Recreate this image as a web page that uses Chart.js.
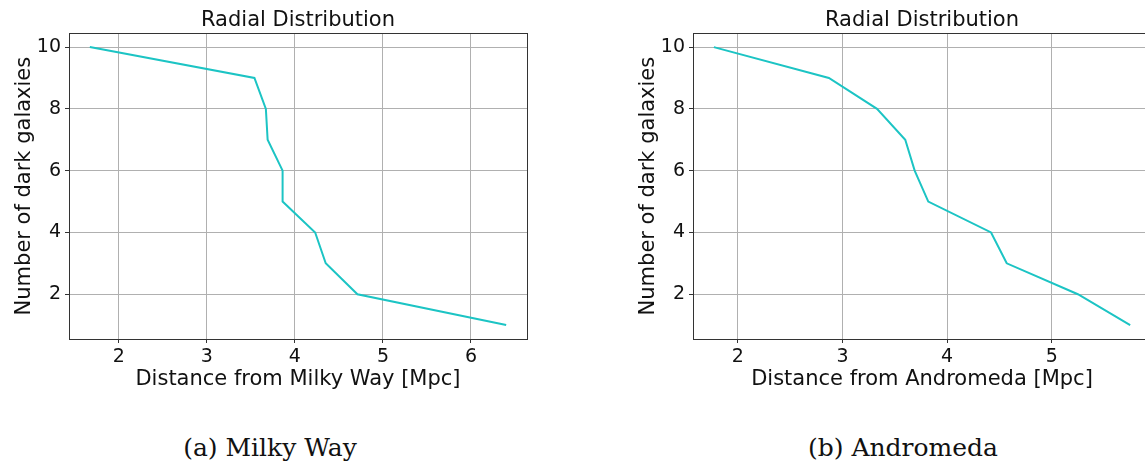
<!DOCTYPE html>
<html>
<head>
<meta charset="utf-8">
<script src="https://cdn.jsdelivr.net/npm/chart.js@4.4.0/dist/chart.umd.min.js"></script>
<style>
  html, body { margin: 0; padding: 0; background: #fff; overflow: hidden; }
  body { width: 1145px; height: 466px; position: relative; }
  canvas { position: absolute; top: 0; }
  #mw { left: 0; }
  #m31 { left: 624px; }
  .caption {
    position: absolute; top: 433px; width: 400px; text-align: center;
    font-family: 'DejaVu Serif', serif; font-size: 25px; color: #111;
  }
</style>
</head>
<body>
<canvas id="mw" width="560" height="400"></canvas>
<canvas id="m31" width="560" height="400"></canvas>
<div class="caption" style="left:70px">(a) Milky Way</div>
<div class="caption" style="left:703px">(b) Andromeda</div>
<script>
const galaxyCount = [10, 9, 8, 7, 6, 5, 4, 3, 2, 1];
const milkyWayDistance = [1.67, 3.54, 3.67, 3.69, 3.86, 3.86, 4.23, 4.35, 4.71, 6.40];
const andromedaDistance = [1.77, 2.87, 3.33, 3.60, 3.69, 3.82, 4.42, 4.57, 5.25, 5.75];
const milkyWayTicks = [2, 3, 4, 5, 6];
const andromedaTicks = [2, 3, 4, 5];
const countTicks = [2, 4, 6, 8, 10];

// spines all round, like matplotlib
const frame = {
  id: 'frame',
  afterDraw(chart) {
    const a = chart.chartArea, ctx = chart.ctx;
    ctx.save();
    ctx.strokeStyle = '#333';
    ctx.lineWidth = 1;
    ctx.strokeRect(Math.round(a.left) + 0.5, Math.round(a.top) + 0.5,
      Math.round(a.right - a.left), Math.round(a.bottom - a.top));
    ctx.restore();
  }
};

function margins(values) {
  const lo = Math.min(...values), hi = Math.max(...values);
  const pad = (hi - lo) * 0.05;
  return [lo - pad, hi + pad];
}

function drawPanel(id, xs, xTicks, xLabel) {
  const canvas = document.getElementById(id);
  const [xMin, xMax] = margins(xs);
  const [yMin, yMax] = margins(galaxyCount);
  const font = { family: 'DejaVu Sans', size: 21, weight: 'normal' };
  new Chart(canvas, {
    type: 'line',
    data: {
      datasets: [{
        data: xs.map((x, i) => ({ x: x, y: galaxyCount[i] })),
        borderColor: '#1cc4c4',
        borderWidth: 2,
        pointRadius: 0,
        tension: 0,
        fill: false,
      }],
    },
    options: {
      responsive: false,
      animation: false,
      devicePixelRatio: 1,
      layout: { padding: { left: 0, top: 0, right: 33, bottom: 0 } },
      plugins: {
        legend: { display: false },
        tooltip: { enabled: false },
        title: {
          display: true,
          text: 'Radial Distribution',
          fullSize: false,
          color: '#111',
          font: font,
          padding: { top: 8, bottom: 0 },
        },
      },
      scales: {
        x: {
          type: 'linear',
          min: xMin,
          max: xMax,
          afterBuildTicks: (s) => { s.ticks = xTicks.map(v => ({ value: v })); },
          afterFit: (s) => { s.height = 61; },
          grid: { color: '#b0b0b0', tickColor: '#333', tickLength: 4 },
          border: { display: false },
          ticks: { color: '#111', font: { family: 'DejaVu Sans', size: 19 }, padding: 3, maxRotation: 0 },
          title: { display: true, text: xLabel, color: '#111', font: font, padding: { top: 0, bottom: 8 } },
        },
        y: {
          type: 'linear',
          min: yMin,
          max: yMax,
          afterBuildTicks: (s) => { s.ticks = countTicks.map(v => ({ value: v })); },
          afterFit: (s) => { s.width = 69; },
          grid: { color: '#b0b0b0', tickColor: '#333', tickLength: 4 },
          border: { display: false },
          ticks: { color: '#111', font: { family: 'DejaVu Sans', size: 19 }, padding: 4 },
          title: { display: true, text: 'Number of dark galaxies', color: '#111', font: font, padding: { top: 12, bottom: 0 } },
        },
      },
    },
    plugins: [frame],
  });
}

document.addEventListener('DOMContentLoaded', () => {
  drawPanel('mw', milkyWayDistance, milkyWayTicks, 'Distance from Milky Way [Mpc]');
  drawPanel('m31', andromedaDistance, andromedaTicks, 'Distance from Andromeda [Mpc]');
});
</script>
</body>
</html>
